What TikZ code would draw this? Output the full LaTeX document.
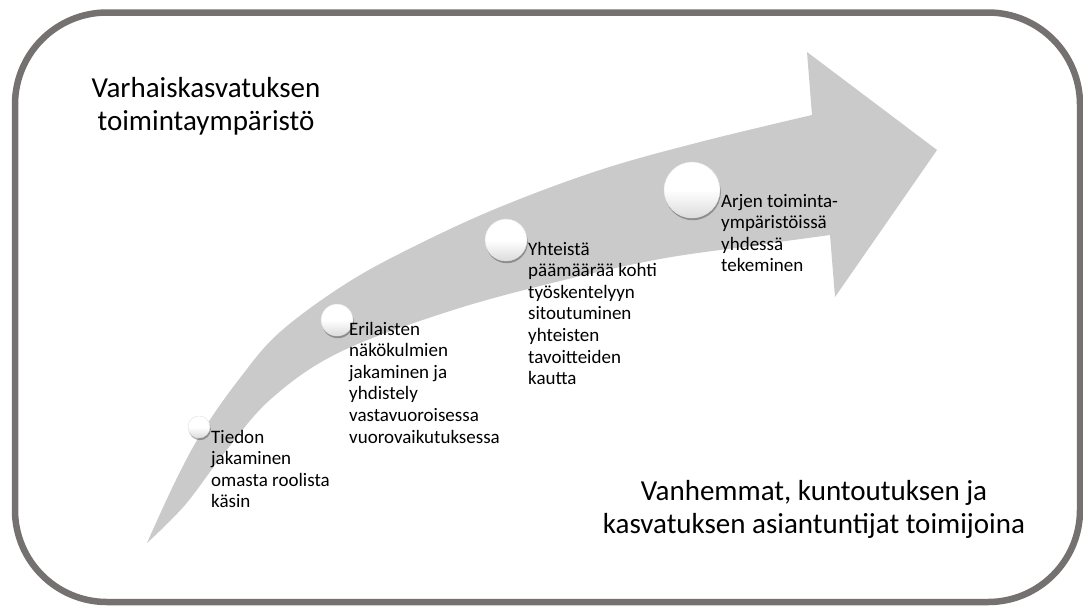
\documentclass[tikz,border=0pt]{standalone}
\usepackage{fontspec}
\setmainfont{Carlito}
\usetikzlibrary{shadows}
\definecolor{frame}{HTML}{767171}
\definecolor{arrowgrey}{HTML}{CACACA}
\tikzset{
  bigtext/.style={inner sep=0pt, anchor=base, font=\fontsize{29}{33}\selectfont},
  smalltext/.style={inner sep=0pt, anchor=base west, font=\fontsize{19}{21.6}\selectfont},
  ball/.style={circle, inner sep=0pt, draw=black!12, line width=0.4pt, top color=white, bottom color=black!14, middle color=white,
    drop shadow={shadow xshift=0.8pt, shadow yshift=-2.2pt, opacity=.3, fill=black}},
}
\begin{document}
\begin{tikzpicture}[x=1pt,y=-1pt]
\useasboundingbox (0,0) rectangle (1083,606);
\fill[white] (0,0) rectangle (1083,606);
% frame
\draw[frame, line width=6.5pt, rounded corners=92pt] (15,12.5) rectangle (1080,602);
% curved arrow
\fill[arrowgrey] (147,543) -- plot[smooth, tension=0.6] coordinates {(147,543) (175,482) (202,432) (240,378) (280,332) (347,283) (417,245) (500,207) (600,170) (700,142) (812,115)}
  -- (807,52) -- (937,150) -- (835,297) -- (830,235)
  -- plot[smooth, tension=0.6] coordinates {(830,235) (750,246) (660,259) (560,281) (450,311) (340,352) (272,398) (225,452) (185,505) (147,543)} -- cycle;
% balls
\node[ball, minimum size=22pt] (b1) at (199,427) {};
\node[ball, minimum size=32pt] (b2) at (337,320) {};
\node[ball, minimum size=42pt] (b3) at (506,240) {};
\node[ball, minimum size=56pt] (b4) at (692,190) {};
% labels
\node[smalltext] (t1) at (211,443) {\begin{tabular}[t]{@{}l@{}}Tiedon\\jakaminen\\omasta roolista\\käsin\end{tabular}};
\node[smalltext] (t2) at (349,335) {\begin{tabular}[t]{@{}l@{}}Erilaisten\\näkökulmien\\jakaminen ja\\yhdistely\\vastavuoroisessa\\vuorovaikutuksessa\end{tabular}};
\node[smalltext] (t3) at (528,255) {\begin{tabular}[t]{@{}l@{}}Yhteistä\\päämäärää kohti\\työskentelyyn\\sitoutuminen\\yhteisten\\tavoitteiden\\kautta\end{tabular}};
\node[smalltext] (t4) at (721,207) {\begin{tabular}[t]{@{}l@{}}Arjen toiminta-\\ympäristöissä\\yhdessä\\tekeminen\end{tabular}};
% big texts
\node[bigtext] (env) at (206,97) {\begin{tabular}[t]{@{}c@{}}Varhaiskasvatuksen\\toimintaympäristö\end{tabular}};
\node[bigtext] (act) at (814,500) {\begin{tabular}[t]{@{}c@{}}Vanhemmat, kuntoutuksen ja\\kasvatuksen asiantuntijat toimijoina\end{tabular}};
\end{tikzpicture}
\end{document}
